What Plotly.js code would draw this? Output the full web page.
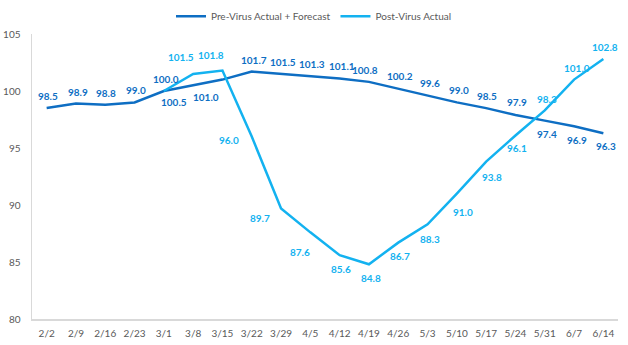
<!DOCTYPE html>
<html>
<head>
<meta charset="utf-8">
<script src="https://cdn.plot.ly/plotly-3.0.1.min.js"></script>
<style>html,body{margin:0;padding:0;background:#fff;}#chart{width:628px;height:345px;}</style>
</head>
<body>
<div id="chart"></div>
<script>
const weeks = ["2/2","2/9","2/16","2/23","3/1","3/8","3/15","3/22","3/29","4/5","4/12","4/19","4/26","5/3","5/10","5/17","5/24","5/31","6/7","6/14"];
const preVirus = [98.5,98.9,98.8,99.0,100.0,100.5,101.0,101.7,101.5,101.3,101.1,100.8,100.2,99.6,99.0,98.5,97.9,97.4,96.9,96.3];
const postVirus = [null,null,null,null,100.0,101.5,101.8,96.0,89.7,87.6,85.6,84.8,86.7,88.3,91.0,93.8,96.1,98.3,101.0,102.8];
const preName = "Pre-Virus Actual + Forecast";
const postName = "Post-Virus Actual";

// label offsets in pixels [dx, dy] (dy positive = downward)
const preOff = [[1,-12],[2,-12],[1,-12],[1,-12],[2,-12],[-19,17],[-16,17],[2,-12],[2,-12],[2,-12],[2,-12],[-4,-12],[2,-13],[2,-13],[2,-12],[1,-12],[2,-13],[2,13],[3,14],[3,13]];
const postOff = [null,null,null,null,null,[-12,-17],[-11,-15],[-23,3],[-21,10],[-10,20],[1,14],[2,14],[2,13],[2,15],[6,18],[6,15],[2,13],[2,-11],[3,-12],[2,-12]];

const darkC = "#0E6EC3";
const lightC = "#13B2F0";

const annotations = [];
preVirus.forEach((v,i)=>{
  annotations.push({x:weeks[i], y:v, xref:'x', yref:'y', text:v.toFixed(1), showarrow:false,
    xanchor:'center', yanchor:'middle', xshift:preOff[i][0], yshift:-preOff[i][1],
    font:{family:'Lato, "Open Sans", sans-serif', size:10, color:darkC, weight:'bold'}});
});
postVirus.forEach((v,i)=>{
  if(v===null || postOff[i]===null) return;
  annotations.push({x:weeks[i], y:v, xref:'x', yref:'y', text:v.toFixed(1), showarrow:false,
    xanchor:'center', yanchor:'middle', xshift:postOff[i][0], yshift:-postOff[i][1],
    font:{family:'Lato, "Open Sans", sans-serif', size:10, color:lightC, weight:'bold'}});
});

const data = [
  {x:weeks, y:preVirus, name:preName, type:'scatter', mode:'lines', line:{color:darkC, width:2.5}, hoverinfo:'skip'},
  {x:weeks, y:postVirus, name:postName, type:'scatter', mode:'lines', line:{color:lightC, width:2.5}, connectgaps:false, hoverinfo:'skip'}
];

const layout = {
  width:628, height:345,
  margin:{l:32, r:10, t:34, b:26, autoexpand:false},
  paper_bgcolor:'#fff', plot_bgcolor:'#fff',
  font:{family:'Lato, "Open Sans", sans-serif', size:10, color:'#595959'},
  showlegend:true,
  legend:{orientation:'h', x:0.5, xanchor:'center', xref:'container', yref:'container', y:0.995, yanchor:'top', font:{size:10, color:'#595959'}, itemwidth:30, tracegroupgap:0},
  xaxis:{type:'category', range:[-0.5,19.5], showgrid:false, zeroline:false, showline:true, linecolor:'#D9D9D9', linewidth:1.5, ticks:'', tickfont:{size:10, color:'#595959'}, ticklabelstandoff:4},
  yaxis:{range:[80,105], dtick:5, tick0:80, showgrid:false, zeroline:false, showline:true, linecolor:'#D9D9D9', linewidth:1.5, ticks:'', tickfont:{size:10, color:'#595959'}, ticklabelstandoff:8},
  annotations:annotations
};

Plotly.newPlot('chart', data, layout, {displayModeBar:false, staticPlot:true});
</script>
</body>
</html>
